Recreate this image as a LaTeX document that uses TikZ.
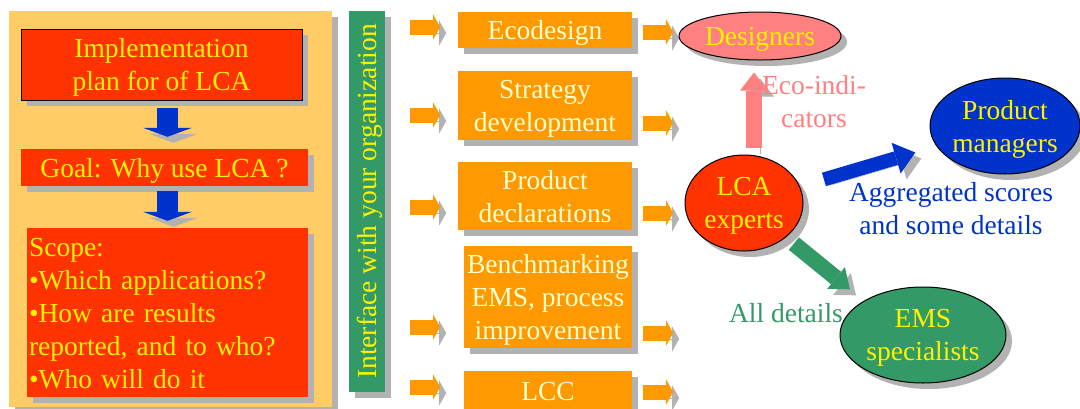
\documentclass[tikz,border=0pt]{standalone}
\usepackage{fontspec}
\setmainfont{Liberation Serif}
\usetikzlibrary{arrows.meta,shadows,shapes.geometric}

\definecolor{panelcol}{HTML}{FFCC66}
\definecolor{redcol}{HTML}{FF3300}
\definecolor{orangecol}{HTML}{FF9900}
\definecolor{greencol}{HTML}{339966}
\definecolor{bluecol}{HTML}{0033CC}
\definecolor{pinkcol}{HTML}{FF8080}
\definecolor{shadowcol}{HTML}{B2B2B2}
\definecolor{creamcol}{HTML}{FFFFCC}

\tikzset{
  dropsh/.style={drop shadow={shadow xshift=6pt, shadow yshift=-6pt, fill=shadowcol, opacity=1}},
  arrsh/.style={preaction={draw=shadowcol, transform canvas={shift={(6pt,-6pt)}}}},
  redbox/.style={dropsh, fill=redcol, text=yellow, inner sep=2pt, text depth=0pt},
  orangebox/.style={dropsh, fill=orangecol, text=creamcol, inner sep=2pt, align=center, text depth=0pt},
  bubble/.style={ellipse, draw=black, line width=1pt, dropsh, text=yellow, align=center, inner sep=0pt, text depth=0pt},
  fatarrow/.style={arrsh, draw=bluecol, line width=21pt, -{Triangle[length=9pt,width=49pt,line width=0pt]}},
  smallarrow/.style={arrsh, draw=orangecol, line width=15pt, -{Triangle[length=7pt,width=25pt,line width=0pt]}},
  pinkarrow/.style={arrsh, draw=pinkcol, line width=16pt, -{Triangle[length=18pt,width=28pt,line width=0pt]}},
  bluearrow/.style={arrsh, draw=bluecol, line width=14pt, -{Triangle[length=20pt,width=32pt,line width=0pt]}},
  greenarrow/.style={arrsh, draw=greencol, line width=16pt, -{Triangle[length=18pt,width=28pt,line width=0pt]}}
}

\begin{document}
\begin{tikzpicture}[x=1pt, y=-1pt, every node/.style={font=\fontsize{27.5pt}{33pt}\selectfont}]
    \useasboundingbox (0,0) rectangle (1080,408);

    \node[dropsh, fill=panelcol, minimum width=323pt, minimum height=396pt] (panel) at (170.5,209) {};
    \node[redbox, draw=black, line width=1pt, align=center, minimum width=281pt, minimum height=71pt] (impl) at (161.5,64.5) {Implementation\\plan for of LCA};
    \node[redbox, minimum width=287pt, minimum height=37pt] (goal) at (164.5,167.5) {Goal: Why use LCA ?};
    \node[redbox, text width=277pt, align=left, text height=18.8pt, text depth=130pt, minimum height=169pt] (scope) at (167.5,312.5) {Scope:\\\textbullet Which applications?\\\textbullet How are results\\reported, and to who?\\\textbullet Who will do it};

    \draw[fatarrow, shorten <=7pt, shorten >=12pt] (impl.south -| 167.5,0) -- (goal.north -| 167.5,0);
    \draw[fatarrow, shorten <=5pt, shorten >=7pt] (goal.south -| 167.5,0) -- (scope.north -| 167.5,0);

    \node[dropsh, fill=greencol, text=yellow, inner sep=0pt, minimum width=36pt, minimum height=381pt] (iface) at (367,201.5) {\rotatebox{90}{\raisebox{0pt}[\height][0pt]{Interface with your organization}}};

    \node[orangebox, minimum width=174pt, minimum height=36pt] (eco) at (545,30) {Ecodesign};
    \node[orangebox, minimum width=174pt, minimum height=69pt] (strat) at (545,105.5) {Strategy\\development};
    \node[orangebox, minimum width=174pt, minimum height=68pt] (decl) at (545,196) {Product\\declarations};
    \node[orangebox, minimum width=168pt, minimum height=102pt] (bench) at (548,297) {Benchmarking\\EMS, process\\improvement};
    \node[orangebox, minimum width=168pt, minimum height=41pt] (lcc) at (548,391.5) {LCC};

    \foreach \b/\l/\r in {eco/27/32, strat/115/123, decl/207/213, bench/327/333, lcc/387/392} {
        \draw[smallarrow, shorten <=25pt] (iface.east |- 0,\l) -- +(55,0);
        \draw[smallarrow, shorten <=11pt] (\b.east |- 0,\r) -- +(41,0);
    }

    \node[bubble, fill=pinkcol, minimum width=162pt, minimum height=48pt] (desig) at (760,36) {Designers};
    \node[bubble, fill=redcol, minimum width=118pt, minimum height=96pt] (lca) at (744,203) {LCA\\experts};
    \node[bubble, fill=bluecol, minimum width=150pt, minimum height=96pt] (pm) at (1005,126) {Product\\managers};
    \node[bubble, fill=greencol, minimum width=166pt, minimum height=96pt] (ems) at (923,335) {EMS\\specialists};

    \draw[pinkarrow, shorten <=7pt, shorten >=12pt] (lca.north -| 754,0) -- (desig.south -| 754,0);
    \draw[bluearrow, shorten <=25pt, shorten >=22pt] (lca) -- (pm);
    \draw[greenarrow, shorten <=10pt, shorten >=18pt] (lca.south east) -- (ems.north west);

    \node[text=pinkcol, align=center] (ecolbl) at (814,102) {Eco-indi-\\cators};
    \node[text=bluecol, align=center] (agglbl) at (951,209) {Aggregated scores\\and some details};
    \node[text=greencol] (alllbl) at (786,312.6) {All details};
\end{tikzpicture}
\end{document}
